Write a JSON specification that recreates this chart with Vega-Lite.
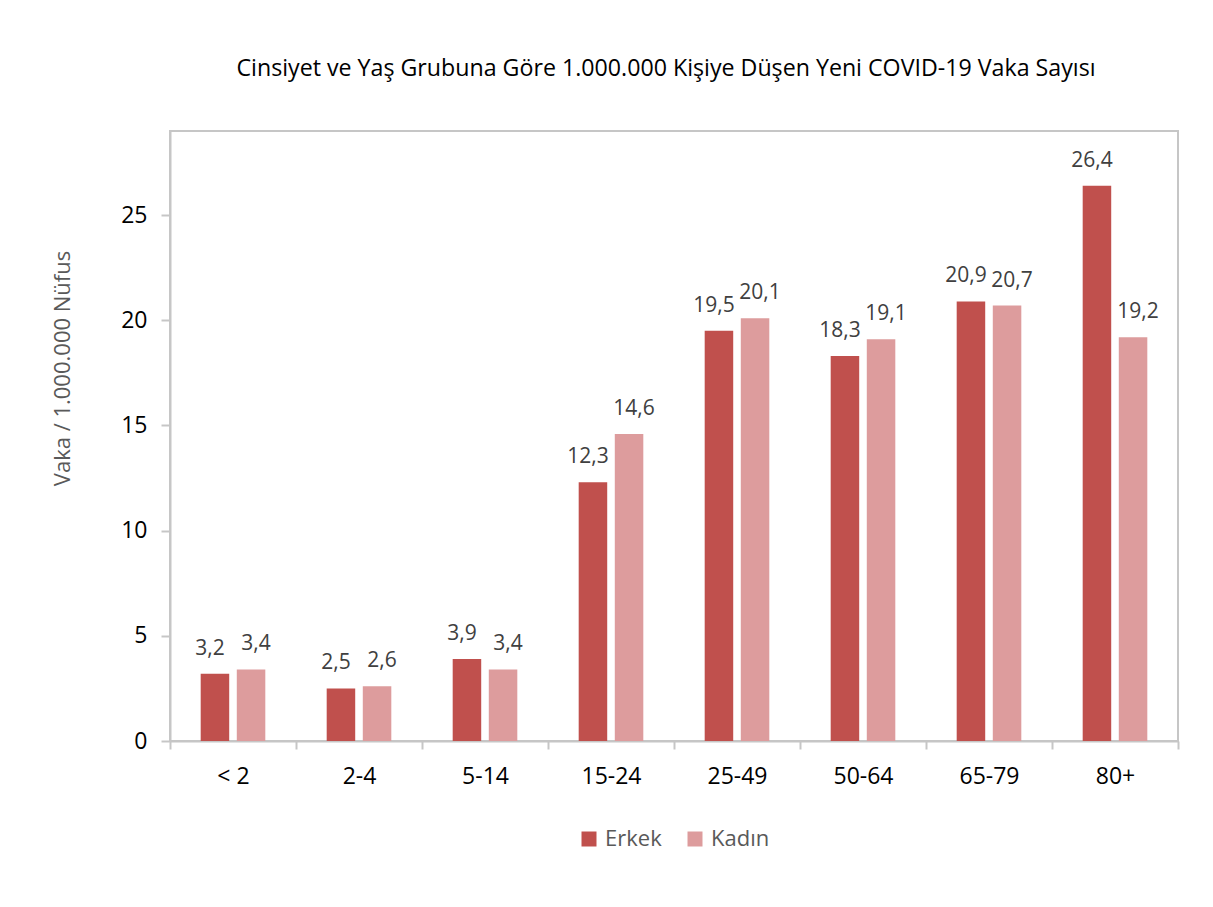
{
  "$schema": "https://vega.github.io/schema/vega-lite/v6.json",
  "width": 1008,
  "height": 610,
  "autosize": {"type": "none"},
  "padding": {"left": 170, "top": 131, "right": 35, "bottom": 166},
  "background": "white",
  "title": {
    "text": "Cinsiyet ve Yaş Grubuna Göre 1.000.000 Kişiye Düşen Yeni COVID-19 Vaka Sayısı",
    "font": "Open Sans",
    "fontSize": 23.2,
    "fontWeight": "normal",
    "color": "#000000",
    "offset": 50,
    "dx": -8,
    "anchor": "middle"
  },
  "config": {
    "locale": {"number": {"decimal": ",", "thousands": ".", "grouping": [3], "currency": ["", " TL"]}},
    "view": {"stroke": "#C6C6C6", "strokeWidth": 2},
    "font": "Open Sans",
    "legend": {"layout": {"bottom": {"anchor": "middle"}}}
  },
  "data": {
    "values": [
      {"grup": "< 2", "cinsiyet": "Erkek", "vaka": 3.2},
      {"grup": "< 2", "cinsiyet": "Kadın", "vaka": 3.4},
      {"grup": "2-4", "cinsiyet": "Erkek", "vaka": 2.5},
      {"grup": "2-4", "cinsiyet": "Kadın", "vaka": 2.6},
      {"grup": "5-14", "cinsiyet": "Erkek", "vaka": 3.9},
      {"grup": "5-14", "cinsiyet": "Kadın", "vaka": 3.4},
      {"grup": "15-24", "cinsiyet": "Erkek", "vaka": 12.3},
      {"grup": "15-24", "cinsiyet": "Kadın", "vaka": 14.6},
      {"grup": "25-49", "cinsiyet": "Erkek", "vaka": 19.5},
      {"grup": "25-49", "cinsiyet": "Kadın", "vaka": 20.1},
      {"grup": "50-64", "cinsiyet": "Erkek", "vaka": 18.3},
      {"grup": "50-64", "cinsiyet": "Kadın", "vaka": 19.1},
      {"grup": "65-79", "cinsiyet": "Erkek", "vaka": 20.9},
      {"grup": "65-79", "cinsiyet": "Kadın", "vaka": 20.7},
      {"grup": "80+", "cinsiyet": "Erkek", "vaka": 26.4},
      {"grup": "80+", "cinsiyet": "Kadın", "vaka": 19.2}
    ]
  },
  "encoding": {
    "x": {
      "field": "grup",
      "type": "nominal",
      "sort": null,
      "scale": {"paddingInner": 0, "paddingOuter": 0},
      "axis": {
        "title": null,
        "labelAngle": 0,
        "labelFont": "Open Sans",
        "labelFontSize": 23,
        "labelColor": "#000000",
        "labelPadding": 16,
        "domainColor": "#C6C6C6",
        "domainWidth": 2,
        "tickColor": "#C6C6C6",
        "tickWidth": 2,
        "tickSize": 8,
        "tickBand": "extent"
      }
    },
    "y": {
      "field": "vaka",
      "type": "quantitative",
      "scale": {"domain": [0, 29], "nice": false},
      "axis": {
        "values": [0, 5, 10, 15, 20, 25],
        "grid": false,
        "title": "Vaka / 1.000.000 Nüfus",
        "titleFont": "Open Sans",
        "titleFontSize": 22,
        "titleFontWeight": "normal",
        "titleColor": "#595959",
        "titlePadding": 46,
        "titleY": 237,
        "labelFont": "Open Sans",
        "labelFontSize": 23,
        "labelColor": "#000000",
        "labelPadding": 14,
        "domainColor": "#C6C6C6",
        "domainWidth": 2,
        "tickColor": "#C6C6C6",
        "tickWidth": 2,
        "tickSize": 9
      }
    }
  },
  "layer": [
    {
      "mark": {"type": "bar"},
      "encoding": {
        "xOffset": {
          "field": "cinsiyet",
          "type": "nominal",
          "sort": ["Erkek", "Kadın"],
          "scale": {"paddingInner": 0.21, "paddingOuter": 0.85}
        },
        "color": {
          "field": "cinsiyet",
          "type": "nominal",
          "sort": ["Erkek", "Kadın"],
          "scale": {"domain": ["Erkek", "Kadın"], "range": ["#C0504D", "#DD9C9D"]},
          "legend": {
            "title": null,
            "orient": "bottom",
            "direction": "horizontal",
            "symbolType": "square",
            "symbolSize": 225,
            "symbolStrokeWidth": 0,
            "labelFont": "Open Sans",
            "labelFontSize": 22,
            "labelColor": "#595959",
            "labelOffset": 5,
            "columnPadding": 22,
            "offset": 40
          }
        }
      }
    },
    {
      "mark": {"type": "text", "baseline": "alphabetic", "dy": -19, "font": "Open Sans", "fontSize": 21, "color": "#404040"},
      "encoding": {
        "xOffset": {
          "field": "cinsiyet",
          "type": "nominal",
          "sort": ["Erkek", "Kadın"],
          "scale": {"type": "point", "padding": 0.87}
        },
        "text": {"field": "vaka", "type": "quantitative", "format": ".1f"}
      }
    }
  ],
  "resolve": {"scale": {"xOffset": "independent"}}
}
